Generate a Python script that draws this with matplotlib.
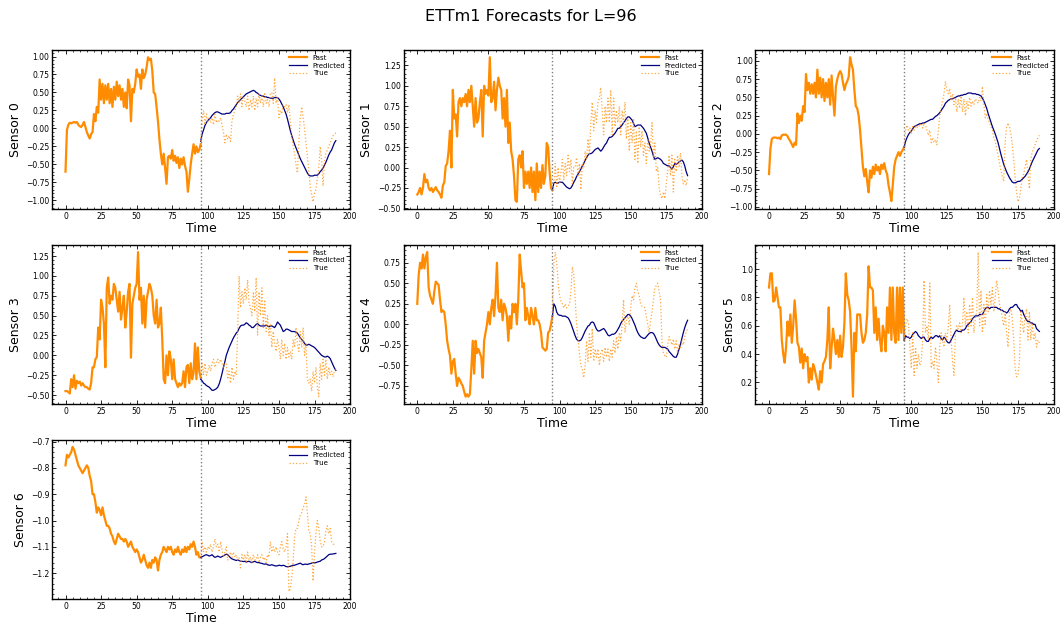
import numpy as np
import matplotlib
matplotlib.use("Agg")
import matplotlib.pyplot as plt
from matplotlib.ticker import AutoMinorLocator

# ---- data -------------------------------------------------------------
LOOKBACK = 96

past_0 = [-0.60, -0.02, 0.05, 0.08, 0.07, 0.08, 0.09, 0.08, 0.09, 0.05, 0.03, 0.02, 0.05, 0.09, 0.02, -0.05,
          -0.10, -0.14, -0.08, -0.05, 0.20, 0.10, 0.30, 0.22, 0.68, 0.40, 0.62, 0.35, 0.60, 0.40, 0.62, 0.35,
          0.55, 0.30, 0.58, 0.40, 0.65, 0.45, 0.60, 0.40, 0.55, 0.30, 0.50, 0.28, 0.68, 0.60, 0.10, 0.55,
          0.50, 0.62, 0.82, 0.72, 0.75, 0.55, 0.82, 0.70, 0.75, 0.85, 0.99, 0.95, 0.97, 0.80, 0.50, 0.48,
          0.30, 0.10, -0.15, -0.35, -0.50, -0.35, -0.55, -0.77, -0.40, -0.38, -0.42, -0.30, -0.45, -0.38, -0.48, -0.40,
          -0.55, -0.42, -0.50, -0.40, -0.52, -0.60, -0.88, -0.70, -0.50, -0.35, -0.22, -0.35, -0.25, -0.33, -0.30, -0.22]
pred_0 = [-0.18, -0.08, -0.02, 0.04, 0.08, 0.11, 0.13, 0.15, 0.18, 0.20, 0.22, 0.23, 0.23, 0.22, 0.21, 0.20,
          0.20, 0.20, 0.21, 0.21, 0.21, 0.22, 0.25, 0.27, 0.30, 0.33, 0.36, 0.38, 0.40, 0.42, 0.44, 0.46,
          0.48, 0.49, 0.50, 0.51, 0.52, 0.53, 0.52, 0.50, 0.49, 0.47, 0.46, 0.45, 0.45, 0.44, 0.44, 0.43,
          0.43, 0.42, 0.42, 0.42, 0.43, 0.43, 0.43, 0.41, 0.38, 0.34, 0.30, 0.25, 0.20, 0.13, 0.05, -0.03,
          -0.10, -0.16, -0.22, -0.27, -0.32, -0.37, -0.42, -0.46, -0.50, -0.54, -0.58, -0.62, -0.65, -0.66, -0.66, -0.66,
          -0.65, -0.65, -0.65, -0.63, -0.60, -0.58, -0.55, -0.51, -0.47, -0.42, -0.37, -0.33, -0.30, -0.25, -0.20, -0.17]
true_0 = [-0.18, 0.10, 0.25, 0.05, 0.20, 0.10, 0.15, 0.08, 0.15, 0.05, 0.20, 0.08, 0.12, 0.10, 0.15, 0.05,
          -0.05, -0.20, -0.08, -0.15, -0.10, -0.18, 0.10, 0.20, 0.25, 0.30, 0.45, 0.35, 0.48, 0.30, 0.45, 0.38,
          0.30, 0.45, 0.25, 0.40, 0.30, 0.45, 0.25, 0.42, 0.30, 0.48, 0.35, 0.45, 0.30, 0.50, 0.35, 0.40,
          0.30, 0.48, 0.50, 0.35, 0.70, 0.35, 0.45, 0.15, 0.25, 0.20, 0.33, 0.30, 0.33, 0.22, 0.33, 0.10,
          -0.10, -0.25, -0.35, -0.50, -0.62, -0.20, 0.15, 0.30, 0.15, 0.00, -0.20, -0.40, -0.60, -0.80, -0.92, -1.02,
          -0.90, -0.85, -0.70, -0.55, -0.25, -0.45, -0.80, -0.45, -0.35, -0.30, -0.25, -0.20, -0.15, -0.10, -0.08, -0.06]

past_1 = [-0.33, -0.30, -0.25, -0.33, -0.25, -0.08, -0.18, -0.15, -0.25, -0.28, -0.25, -0.30, -0.27, -0.24, -0.28, -0.30,
          -0.33, -0.37, -0.22, -0.18, 0.02, 0.05, 0.20, 0.45, 0.00, 0.95, 0.60, 0.65, 0.38, 0.80, 0.85, 0.75,
          0.85, 0.80, 0.90, 0.75, 0.95, 0.80, 1.00, 0.75, 0.50, 0.85, 0.55, 0.60, 0.80, 0.95, 0.38, 1.00,
          0.90, 0.95, 0.88, 1.35, 0.80, 0.85, 1.05, 0.70, 0.95, 1.10, 1.00, 0.95, 0.60, 0.85, 0.50, 0.95,
          0.30, 0.55, 0.20, 0.10, -0.10, -0.40, -0.42, 0.10, 0.15, 0.00, 0.20, -0.25, -0.05, -0.20, -0.05, -0.25,
          0.00, -0.30, -0.05, -0.40, 0.05, -0.30, -0.05, -0.25, 0.03, -0.20, -0.10, 0.30, 0.25, -0.05, -0.25, -0.28]
pred_1 = [-0.27, -0.19, -0.18, -0.19, -0.19, -0.18, -0.18, -0.18, -0.20, -0.22, -0.24, -0.25, -0.26, -0.25, -0.22, -0.18,
          -0.15, -0.11, -0.08, -0.05, -0.02, 0.02, 0.05, 0.09, 0.12, 0.15, 0.17, 0.17, 0.18, 0.20, 0.22, 0.23,
          0.24, 0.22, 0.20, 0.22, 0.25, 0.28, 0.30, 0.34, 0.37, 0.37, 0.38, 0.40, 0.42, 0.45, 0.48, 0.48,
          0.50, 0.52, 0.55, 0.57, 0.60, 0.62, 0.62, 0.60, 0.58, 0.54, 0.50, 0.51, 0.52, 0.52, 0.52, 0.50,
          0.48, 0.45, 0.42, 0.36, 0.30, 0.25, 0.20, 0.14, 0.10, 0.11, 0.12, 0.11, 0.10, 0.08, 0.05, 0.04,
          0.03, 0.02, 0.02, 0.00, -0.02, 0.01, 0.05, 0.04, 0.05, 0.07, 0.08, 0.09, 0.07, 0.02, -0.05, -0.10]
true_1 = [-0.28, -0.20, 0.05, -0.25, 0.00, -0.20, -0.05, 0.10, -0.15, 0.05, -0.10, 0.15, -0.05, 0.10, -0.20, 0.00,
          0.00, 0.12, -0.10, 0.05, -0.27, 0.05, 0.00, 0.20, 0.10, 0.35, 0.15, 0.55, 0.80, 0.45, 0.70, 0.55,
          0.80, 0.85, 0.98, 0.70, 0.40, 0.75, 0.55, 0.85, 0.55, 0.95, 0.40, 0.85, 0.50, 0.70, 0.55, 0.75,
          0.40, 0.70, 0.55, 0.80, 0.35, 0.60, 0.20, 0.55, 0.30, 0.60, 0.10, 0.45, 0.05, 0.50, 0.25, 0.45,
          0.15, 0.30, 0.05, 0.35, 0.20, 0.30, 0.55, 0.10, 0.30, -0.05, 0.00, -0.25, -0.35, -0.38, -0.30, -0.38,
          -0.20, -0.05, 0.15, -0.10, 0.15, -0.30, 0.10, -0.05, 0.15, 0.00, 0.18, -0.10, -0.20, -0.15, -0.22, -0.12]

past_2 = [-0.55, -0.20, -0.07, -0.05, -0.05, -0.05, -0.06, -0.05, -0.07, -0.02, -0.01, -0.01, -0.01, -0.03, -0.07, -0.10,
          -0.14, -0.18, -0.12, -0.15, 0.28, 0.15, 0.25, 0.18, 0.38, 0.30, 0.82, 0.60, 0.70, 0.55, 0.68, 0.55,
          0.70, 0.50, 0.88, 0.55, 0.77, 0.50, 0.75, 0.45, 0.70, 0.50, 0.75, 0.40, 0.80, 0.50, 0.25, 0.65,
          0.75, 0.82, 0.86, 0.82, 0.70, 0.60, 0.68, 0.72, 0.78, 1.05, 0.95, 0.88, 0.60, 0.38, 0.35, 0.25,
          0.05, -0.20, -0.45, -0.58, -0.48, -0.65, -0.80, -0.50, -0.60, -0.45, -0.55, -0.42, -0.50, -0.45, -0.55, -0.42,
          -0.48, -0.40, -0.50, -0.55, -0.70, -0.80, -0.92, -0.70, -0.45, -0.35, -0.30, -0.25, -0.30, -0.25, -0.22, -0.18]
pred_2 = [-0.18, -0.10, -0.05, -0.01, 0.02, 0.04, 0.07, 0.10, 0.11, 0.12, 0.13, 0.14, 0.14, 0.15, 0.15, 0.16,
          0.17, 0.18, 0.19, 0.20, 0.20, 0.22, 0.24, 0.25, 0.27, 0.29, 0.32, 0.35, 0.38, 0.42, 0.44, 0.46,
          0.47, 0.48, 0.48, 0.49, 0.50, 0.51, 0.52, 0.52, 0.53, 0.53, 0.54, 0.54, 0.55, 0.56, 0.56, 0.56,
          0.55, 0.55, 0.55, 0.54, 0.54, 0.53, 0.52, 0.49, 0.45, 0.40, 0.35, 0.28, 0.22, 0.16, 0.10, 0.05,
          0.00, -0.06, -0.12, -0.20, -0.28, -0.35, -0.42, -0.47, -0.52, -0.56, -0.60, -0.63, -0.66, -0.67, -0.67, -0.66,
          -0.65, -0.65, -0.64, -0.62, -0.60, -0.58, -0.55, -0.52, -0.48, -0.43, -0.38, -0.34, -0.30, -0.26, -0.22, -0.20]
true_2 = [-0.18, 0.05, 0.12, 0.05, 0.08, 0.00, 0.10, 0.05, 0.12, 0.08, 0.12, 0.10, 0.15, 0.08, 0.15, 0.12,
          0.05, -0.02, 0.05, -0.12, -0.05, -0.12, -0.08, -0.15, 0.05, 0.25, 0.35, 0.45, 0.55, 0.72, 0.60, 0.55,
          0.62, 0.45, 0.55, 0.40, 0.50, 0.30, 0.48, 0.35, 0.52, 0.30, 0.48, 0.25, 0.45, 0.35, 0.50, 0.38,
          0.45, 0.40, 0.48, 0.45, 0.42, 0.50, 0.45, 0.65, 0.40, 0.22, 0.28, 0.20, 0.15, 0.10, 0.05, -0.05,
          -0.10, -0.20, -0.30, -0.40, -0.50, -0.58, -0.65, -0.10, 0.10, 0.15, 0.10, 0.00, -0.15, -0.35, -0.60, -0.80,
          -0.93, -0.88, -0.75, -0.60, -0.55, -0.45, -0.35, -0.55, -0.75, -0.35, -0.25, -0.20, -0.15, -0.10, -0.05, -0.02]

past_3 = [-0.45, -0.45, -0.46, -0.48, -0.30, -0.40, -0.25, -0.42, -0.32, -0.35, -0.33, -0.38, -0.35, -0.38, -0.40, -0.40,
          -0.42, -0.43, -0.35, -0.15, -0.15, -0.05, -0.02, 0.35, 0.20, 0.70, 0.60, 0.40, -0.15, 0.85, 0.98, 0.65,
          0.75, 0.70, 0.90, 0.85, 0.70, 0.55, 0.80, 0.45, 0.60, 0.75, 0.35, 0.55, 0.80, 0.90, -0.03, 0.65,
          0.75, 0.85, 0.90, 1.30, 0.70, 0.85, 0.40, 0.75, 0.35, 0.70, 0.80, 0.90, 0.85, 0.75, 0.50, 0.40,
          0.70, 0.35, 0.40, 0.60, 0.20, -0.30, -0.35, 0.00, -0.25, 0.05, -0.05, -0.30, -0.05, -0.30, -0.35, -0.40,
          -0.35, -0.38, -0.35, -0.20, -0.40, -0.15, -0.12, -0.35, -0.10, -0.30, -0.22, 0.15, -0.30, 0.10, -0.20, -0.28]
pred_3 = [-0.30, -0.32, -0.35, -0.36, -0.38, -0.39, -0.40, -0.42, -0.44, -0.44, -0.43, -0.42, -0.40, -0.36, -0.30, -0.23,
          -0.15, -0.08, 0.00, 0.05, 0.10, 0.14, 0.18, 0.22, 0.25, 0.28, 0.30, 0.34, 0.37, 0.38, 0.38, 0.39,
          0.41, 0.40, 0.38, 0.37, 0.35, 0.35, 0.37, 0.39, 0.40, 0.38, 0.37, 0.37, 0.37, 0.37, 0.38, 0.37,
          0.36, 0.37, 0.37, 0.36, 0.35, 0.38, 0.42, 0.40, 0.38, 0.34, 0.30, 0.31, 0.33, 0.33, 0.32, 0.31,
          0.30, 0.30, 0.30, 0.29, 0.28, 0.25, 0.22, 0.20, 0.18, 0.15, 0.13, 0.13, 0.14, 0.13, 0.12, 0.11,
          0.10, 0.08, 0.06, 0.04, 0.02, 0.00, -0.01, -0.02, -0.02, -0.01, -0.02, -0.04, -0.08, -0.12, -0.16, -0.19]
true_3 = [-0.28, -0.10, -0.25, -0.10, -0.25, -0.20, -0.12, -0.20, -0.10, -0.05, -0.15, -0.10, -0.05, -0.10, -0.05, -0.10,
          -0.15, -0.10, -0.10, -0.30, -0.20, -0.35, -0.15, -0.30, -0.20, -0.25, 0.30, 1.00, 0.60, 0.80, 0.65, 0.85,
          0.70, 0.95, 0.65, 0.60, 0.50, 0.80, 0.55, 0.98, 0.25, 0.80, 0.50, 0.85, 0.35, 0.70, 0.30, 0.50,
          0.25, 0.40, 0.10, 0.30, 0.15, 0.05, 0.20, 0.10, -0.05, 0.20, 0.00, 0.15, -0.05, 0.10, -0.02, 0.05,
          -0.05, 0.20, 0.10, 0.35, 0.15, 0.05, 0.30, 0.10, 0.35, 0.00, 0.15, -0.30, -0.35, -0.30, -0.45, -0.20,
          -0.35, -0.15, -0.40, -0.52, -0.10, -0.30, -0.05, -0.25, -0.05, -0.30, -0.15, -0.25, -0.20, -0.27, -0.20, -0.17]

past_4 = [0.25, 0.60, 0.75, 0.68, 0.85, 0.68, 0.82, 0.88, 0.45, 0.35, 0.30, 0.25, 0.40, 0.52, 0.50, 0.48,
          0.30, 0.15, 0.17, 0.15, 0.00, -0.20, -0.30, -0.38, -0.60, -0.45, -0.42, -0.60, -0.75, -0.65, -0.68, -0.72,
          -0.75, -0.82, -0.88, -0.85, -0.88, -0.85, -0.55, -0.20, -0.60, -0.20, -0.35, -0.30, -0.35, -0.40, -0.65, -0.20,
          -0.10, 0.00, 0.15, 0.00, 0.20, 0.30, 0.10, 0.35, 0.75, 0.20, 0.15, 0.30, 0.05, 0.25, 0.20, 0.10,
          -0.20, 0.10, -0.05, 0.25, 0.15, 0.25, 0.00, 0.30, 0.85, 0.65, 0.45, 0.50, 0.05, 0.20, 0.10, 0.00,
          0.20, 0.10, 0.00, 0.20, 0.05, 0.05, 0.00, -0.10, -0.28, -0.30, -0.32, -0.30, -0.10, -0.08, 0.00, 0.10]
pred_4 = [0.10, 0.25, 0.22, 0.15, 0.12, 0.11, 0.11, 0.10, 0.10, 0.10, 0.09, 0.08, 0.05, 0.01, -0.04, -0.09,
          -0.14, -0.18, -0.20, -0.20, -0.19, -0.16, -0.12, -0.08, -0.05, -0.02, -0.01, 0.02, 0.03, 0.02, -0.02, -0.06,
          -0.08, -0.08, -0.07, -0.06, -0.05, -0.07, -0.10, -0.13, -0.14, -0.13, -0.12, -0.12, -0.11, -0.09, -0.06, -0.03,
          0.01, 0.04, 0.06, 0.08, 0.10, 0.12, 0.12, 0.10, 0.07, 0.03, -0.01, -0.06, -0.10, -0.13, -0.15, -0.16,
          -0.17, -0.17, -0.15, -0.13, -0.11, -0.10, -0.10, -0.11, -0.14, -0.18, -0.22, -0.25, -0.27, -0.28, -0.28, -0.28,
          -0.29, -0.30, -0.33, -0.35, -0.37, -0.39, -0.40, -0.40, -0.36, -0.30, -0.24, -0.17, -0.10, -0.04, 0.01, 0.05]
true_4 = [0.10, 0.75, 0.88, 0.75, 0.50, 0.35, 0.28, 0.25, 0.20, 0.25, 0.20, 0.22, 0.25, 0.40, 0.70, 0.60,
          0.30, 0.00, -0.20, -0.35, -0.50, -0.55, -0.65, -0.50, -0.20, -0.45, -0.10, -0.40, -0.05, -0.45, -0.30, -0.40,
          -0.30, -0.50, -0.35, -0.30, -0.45, -0.28, -0.40, -0.30, -0.45, -0.30, -0.40, -0.20, -0.35, -0.15, -0.30, -0.10,
          -0.20, 0.00, 0.30, -0.10, 0.05, 0.10, 0.00, 0.20, 0.35, 0.30, 0.45, 0.50, 0.40, 0.35, 0.25, 0.22,
          0.22, 0.20, 0.10, 0.00, -0.10, 0.05, 0.15, 0.30, 0.45, 0.47, 0.50, 0.40, 0.30, -0.20, -0.35, -0.38,
          -0.40, -0.25, -0.15, -0.20, -0.25, -0.18, -0.30, -0.20, -0.35, -0.25, -0.30, -0.20, -0.25, -0.15, -0.10, -0.05]

past_5 = [0.87, 0.97, 0.97, 0.77, 0.78, 0.87, 0.80, 0.73, 0.73, 0.50, 0.40, 0.34, 0.45, 0.63, 0.53, 0.68,
          0.48, 0.60, 0.78, 0.65, 0.48, 0.45, 0.34, 0.44, 0.30, 0.40, 0.35, 0.38, 0.20, 0.30, 0.22, 0.33,
          0.30, 0.25, 0.20, 0.15, 0.28, 0.20, 0.33, 0.35, 0.38, 0.50, 0.73, 0.30, 0.45, 0.58, 0.50, 0.40,
          0.50, 0.38, 0.53, 0.38, 0.45, 0.62, 0.97, 0.82, 0.78, 0.70, 0.45, 0.10, 0.55, 0.42, 0.68, 0.68,
          0.68, 0.55, 0.48, 0.50, 0.55, 0.68, 1.02, 0.87, 0.87, 0.85, 0.55, 0.73, 0.50, 0.65, 0.50, 0.42,
          0.60, 0.55, 0.42, 0.73, 0.55, 0.87, 0.50, 0.87, 0.55, 0.48, 0.87, 0.50, 0.87, 0.55, 0.87, 0.50]
pred_5 = [0.50, 0.53, 0.52, 0.52, 0.51, 0.52, 0.54, 0.55, 0.56, 0.55, 0.53, 0.52, 0.51, 0.52, 0.52, 0.50,
          0.49, 0.49, 0.51, 0.52, 0.51, 0.52, 0.53, 0.53, 0.52, 0.53, 0.51, 0.50, 0.52, 0.51, 0.49, 0.48,
          0.48, 0.50, 0.52, 0.54, 0.56, 0.57, 0.56, 0.56, 0.56, 0.57, 0.57, 0.58, 0.60, 0.61, 0.62, 0.63,
          0.65, 0.66, 0.67, 0.67, 0.67, 0.68, 0.68, 0.68, 0.70, 0.72, 0.73, 0.73, 0.72, 0.73, 0.73, 0.73,
          0.73, 0.73, 0.72, 0.72, 0.71, 0.71, 0.70, 0.70, 0.69, 0.70, 0.72, 0.73, 0.73, 0.74, 0.75, 0.75,
          0.73, 0.72, 0.70, 0.71, 0.68, 0.66, 0.64, 0.63, 0.63, 0.62, 0.62, 0.61, 0.61, 0.58, 0.57, 0.56]
true_5 = [0.50, 0.60, 0.65, 0.62, 0.45, 0.30, 0.55, 0.25, 0.45, 0.30, 0.40, 0.32, 0.35, 0.50, 0.92, 0.55,
          0.60, 0.50, 0.90, 0.30, 0.35, 0.30, 0.45, 0.35, 0.20, 0.45, 0.55, 0.50, 0.45, 0.55, 0.50, 0.60,
          0.75, 0.50, 0.35, 0.25, 0.55, 0.60, 0.58, 0.62, 0.55, 0.62, 0.80, 0.60, 0.70, 0.55, 0.75, 0.60,
          0.80, 0.55, 0.65, 0.70, 1.12, 0.60, 0.85, 0.55, 0.75, 0.60, 0.82, 0.70, 0.85, 0.75, 0.87, 0.70,
          0.80, 0.92, 0.85, 0.75, 0.72, 0.65, 0.60, 0.70, 0.55, 0.45, 0.70, 0.72, 0.65, 0.50, 0.30, 0.24,
          0.25, 0.35, 0.70, 0.62, 0.55, 0.68, 0.72, 0.50, 0.70, 0.50, 0.62, 0.50, 0.55, 0.45, 0.50, 0.48]

past_6 = [-0.79, -0.75, -0.76, -0.75, -0.74, -0.72, -0.73, -0.75, -0.77, -0.79, -0.80, -0.81, -0.82, -0.81, -0.80, -0.79,
          -0.80, -0.83, -0.85, -0.90, -0.90, -0.93, -0.97, -0.95, -0.96, -0.98, -0.95, -0.98, -1.00, -1.02, -1.02, -1.03,
          -1.05, -1.06, -1.08, -1.09, -1.07, -1.05, -1.06, -1.07, -1.07, -1.08, -1.07, -1.08, -1.10, -1.09, -1.08, -1.10,
          -1.11, -1.12, -1.11, -1.12, -1.14, -1.16, -1.15, -1.13, -1.15, -1.17, -1.18, -1.16, -1.18, -1.15, -1.16, -1.14,
          -1.15, -1.19, -1.15, -1.13, -1.12, -1.10, -1.11, -1.12, -1.10, -1.11, -1.10, -1.12, -1.13, -1.11, -1.12, -1.10,
          -1.12, -1.13, -1.11, -1.12, -1.10, -1.12, -1.10, -1.11, -1.09, -1.10, -1.08, -1.10, -1.13, -1.12, -1.14, -1.14]
pred_6 = [-1.140, -1.138, -1.135, -1.132, -1.130, -1.132, -1.135, -1.133, -1.130, -1.136, -1.140, -1.138, -1.135, -1.138, -1.140, -1.137,
          -1.134, -1.131, -1.128, -1.130, -1.136, -1.142, -1.146, -1.148, -1.150, -1.152, -1.150, -1.152, -1.155, -1.155, -1.156, -1.155,
          -1.158, -1.156, -1.155, -1.158, -1.160, -1.157, -1.155, -1.158, -1.160, -1.160, -1.162, -1.163, -1.165, -1.166, -1.165, -1.168,
          -1.170, -1.170, -1.168, -1.170, -1.172, -1.173, -1.172, -1.170, -1.171, -1.172, -1.170, -1.172, -1.175, -1.176, -1.175, -1.174,
          -1.172, -1.170, -1.170, -1.168, -1.166, -1.164, -1.162, -1.166, -1.168, -1.166, -1.166, -1.167, -1.165, -1.164, -1.162, -1.160,
          -1.161, -1.160, -1.158, -1.156, -1.155, -1.150, -1.148, -1.145, -1.140, -1.135, -1.130, -1.128, -1.128, -1.127, -1.126, -1.125]
true_6 = [-1.14, -1.08, -1.12, -1.10, -1.12, -1.10, -1.11, -1.09, -1.12, -1.10, -1.07, -1.10, -1.09, -1.12, -1.08, -1.11,
          -1.14, -1.12, -1.10, -1.15, -1.13, -1.12, -1.14, -1.12, -1.14, -1.13, -1.15, -1.14, -1.18, -1.13, -1.15, -1.13,
          -1.16, -1.12, -1.15, -1.14, -1.16, -1.13, -1.15, -1.15, -1.13, -1.16, -1.14, -1.13, -1.15, -1.14, -1.16, -1.13,
          -1.14, -1.08, -1.12, -1.10, -1.12, -1.10, -1.12, -1.13, -1.10, -1.08, -1.11, -1.12, -1.10, -1.05, -1.27, -1.26,
          -1.22, -1.15, -1.06, -1.03, -1.03, -1.00, -0.98, -0.97, -0.95, -0.94, -0.91, -0.97, -1.04, -1.05, -1.10, -1.23,
          -1.12, -1.05, -1.00, -1.03, -1.08, -1.10, -1.10, -1.08, -1.04, -1.02, -1.05, -1.03, -1.08, -1.09, -1.09, -1.09]

pasts = [past_0, past_1, past_2, past_3, past_4, past_5, past_6]
preds = [pred_0, pred_1, pred_2, pred_3, pred_4, pred_5, pred_6]
trues = [true_0, true_1, true_2, true_3, true_4, true_5, true_6]
sensor_names = [f"Sensor {i}" for i in range(7)]

# ---- styling ------------------------------------------------------------
plt.rcParams.update({
    "font.family": ["DejaVu Sans"],
    "xtick.direction": "in",
    "ytick.direction": "in",
    "xtick.top": True,
    "ytick.right": True,
    "xtick.minor.visible": True,
    "ytick.minor.visible": True,
    "xtick.major.size": 3,
    "ytick.major.size": 3,
    "xtick.minor.size": 1.5,
    "ytick.minor.size": 1.5,
    "xtick.major.width": 0.6,
    "ytick.major.width": 0.6,
    "xtick.minor.width": 0.5,
    "ytick.minor.width": 0.5,
    "xtick.labelsize": 5.5,
    "ytick.labelsize": 5.5,
    "axes.linewidth": 1.0,
})

PAST_COLOR = "#ff8c00"
PRED_COLOR = "#000080"

fig, axes = plt.subplots(3, 3, figsize=(10.61, 6.25), dpi=100)
fig.subplots_adjust(left=0.049, right=0.993, top=0.92, bottom=0.042,
                    wspace=0.18, hspace=0.225)
fig.suptitle("ETTm1 Forecasts for L=96", fontsize=11.5, y=0.985)

start = LOOKBACK - 1  # forecast drawn from the last observed step
for i, ax in enumerate(axes.flat):
    if i >= len(pasts):
        ax.remove()
        continue
    past = pasts[i]
    ax.plot(np.arange(len(past)), past, color=PAST_COLOR, lw=1.6, label="Past")
    ax.plot(np.arange(start, start + len(preds[i])), preds[i],
            color=PRED_COLOR, lw=0.9, label="Predicted")
    ax.plot(np.arange(start, start + len(trues[i])), trues[i],
            color=PAST_COLOR, lw=0.9, ls=":", alpha=0.75, label="True")
    ax.axvline(start, color="gray", ls=":", lw=1.0)
    ax.set_xlabel("Time", fontsize=9, labelpad=1)
    ax.set_ylabel(sensor_names[i], fontsize=9, labelpad=3)
    ax.set_xticks([0, 25, 50, 75, 100, 125, 150, 175, 200])
    ax.xaxis.set_minor_locator(AutoMinorLocator(5))
    ax.yaxis.set_minor_locator(AutoMinorLocator(5))
    ax.tick_params(axis="both", which="major", pad=2)
    ax.legend(loc="upper right", fontsize=5, frameon=False,
              handlelength=2.6, borderaxespad=0.3, labelspacing=0.25)

fig.savefig("out.png", dpi=100)
